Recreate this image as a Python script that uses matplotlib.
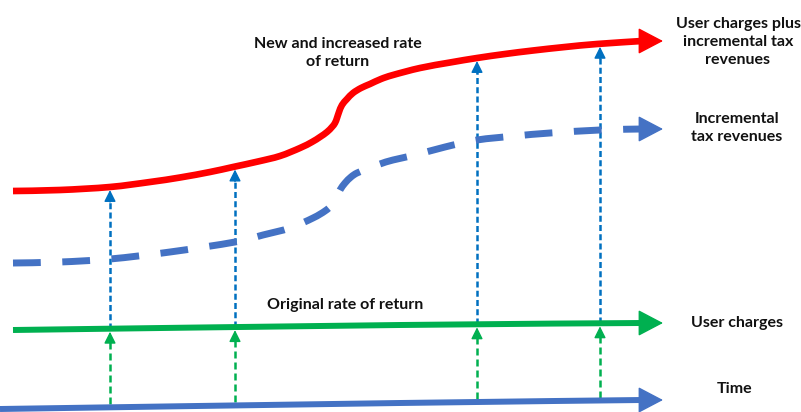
import numpy as np
import matplotlib
matplotlib.use("Agg")
import matplotlib.pyplot as plt
from matplotlib.path import Path
from matplotlib.patches import PathPatch

# Diagram drawn in pixel-like coordinates (x right, y down)
# Red curve: user charges plus incremental tax revenues
red_x = [13, 60, 110, 150, 180, 210, 233, 258, 280, 300, 312, 320, 327, 332, 335, 337, 339, 342, 347, 353, 361, 370, 381, 393, 420, 450, 477, 505, 533, 565, 597, 642]
red_y = [191, 190, 187, 182, 177.5, 172, 167, 161.5, 156, 148, 142, 137, 132, 127, 123, 118, 112, 105, 99, 93, 88, 84, 79, 75, 68, 62.5, 58, 54, 50.5, 47, 44, 41]

# Blue dashed curve: incremental tax revenues
tax_x = [13, 60, 110, 170, 235, 263, 290, 313, 325, 332, 336, 340, 345, 351, 357, 367, 380, 393, 415, 445, 477, 515, 550, 600, 642]
tax_y = [263, 262, 259, 252, 242, 235, 228, 218, 211, 205, 198, 190, 183, 177, 173, 169, 164, 160, 155, 147, 140, 136, 133, 130, 129]

# Green line: user charges (original rate of return)
user_x = [13, 400, 642]
user_y = [330, 325, 323]

# Time axis
time_x = [0, 400, 642]
time_y = [409, 403, 400]

arrow_tip_x = 663
drop_x = [110, 235, 477, 600]

RED = "#FF0000"
BLUE = "#4472C4"
DOT_BLUE = "#0070C0"
GREEN = "#00B050"

plt.rcParams['font.family'] = ['Lato', 'DejaVu Sans']

fig = plt.figure(figsize=(8.01, 4.12), dpi=100)
ax = fig.add_axes([0, 0, 1, 1])
ax.set_xlim(0, 801)
ax.set_ylim(412, 0)
ax.axis('off')


def smooth_path(x, y):
    # Catmull-Rom through the points, drawn as cubic bezier segments
    p = np.column_stack([x, y]).astype(float)
    verts = [p[0]]
    codes = [Path.MOVETO]
    for i in range(len(p) - 1):
        p0 = p[i - 1] if i > 0 else p[i]
        p3 = p[i + 2] if i + 2 < len(p) else p[i + 1]
        c1 = p[i] + (p[i + 1] - p0) / 6
        c2 = p[i + 1] - (p3 - p[i]) / 6
        verts += [c1, c2, p[i + 1]]
        codes += [Path.CURVE4] * 3
    return Path(verts, codes)


def curve(x, y, color, lw, dashes=None, z=2):
    patch = PathPatch(smooth_path(x, y), facecolor='none', edgecolor=color,
                      lw=lw, capstyle='butt', joinstyle='round', zorder=z)
    if dashes:
        patch.set_linestyle((0, dashes))
    ax.add_patch(patch)


def head(x, y, color, scale=20, hl=0.8, hw=0.42):
    # arrow head continuing from the last point of a curve
    ax.annotate('', xy=(arrow_tip_x, y[-1]), xytext=(x[-1] - 2, y[-1]),
                arrowprops=dict(arrowstyle=f'-|>,head_length={hl},head_width={hw}',
                                mutation_scale=scale, color=color, lw=1,
                                shrinkA=0, shrinkB=0))


# vertical dashed arrows (green: time -> user charges, blue: user charges -> red curve)
for x in drop_x:
    yt = np.interp(x, time_x, time_y) - 3
    yu = np.interp(x, user_x, user_y)
    yr = np.interp(x, red_x, red_y)
    ax.plot([x, x], [yt, yu + 13], color=GREEN, lw=1.8, dashes=(2.8, 1.6), zorder=1)
    ax.annotate('', xy=(x, yu + 3), xytext=(x, yu + 14),
                arrowprops=dict(arrowstyle='-|>,head_length=0.5,head_width=0.25',
                                mutation_scale=14, color=GREEN, lw=1,
                                shrinkA=0, shrinkB=0), zorder=1)
    ax.plot([x, x], [yu, yr + 14], color=DOT_BLUE, lw=1.8, dashes=(2.4, 1.3), zorder=1)
    ax.annotate('', xy=(x, yr + 3), xytext=(x, yr + 15),
                arrowprops=dict(arrowstyle='-|>,head_length=0.5,head_width=0.25',
                                mutation_scale=14, color=DOT_BLUE, lw=1,
                                shrinkA=0, shrinkB=0), zorder=1)

curve(time_x, time_y, BLUE, 4.3)
head(time_x, time_y, BLUE)
curve(user_x, user_y, GREEN, 4.3)
head(user_x, user_y, GREEN)
curve(tax_x, tax_y, BLUE, 5, dashes=(4, 3.1))
head(tax_x, tax_y, BLUE)
curve(red_x, red_y, RED, 4.8, z=3)
head(red_x, red_y, RED)

txt = dict(fontsize=11.5, fontweight='bold', color='#111111',
           ha='center', va='center', linespacing=1.35)
ax.text(338, 53, "New and increased rate\nof return", **txt)
ax.text(738, 42, "User charges plus\nincremental tax\nrevenues", **txt)
ax.text(737, 128, "Incremental\ntax revenues", **txt)
ax.text(345, 305, "Original rate of return", **txt)
ax.text(737, 323, "User charges", **txt)
ax.text(735, 389, "Time", **txt)

fig.savefig("out.png", dpi=100)
